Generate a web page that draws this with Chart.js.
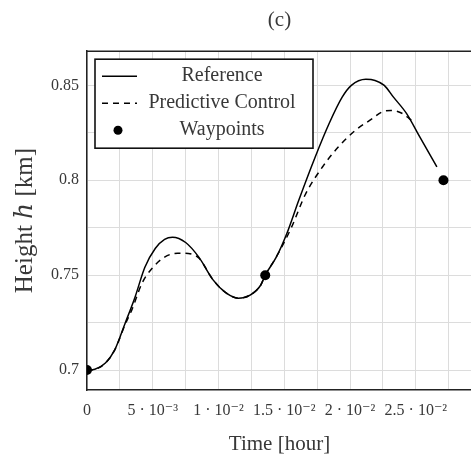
<!DOCTYPE html>
<html>
<head>
<meta charset="utf-8">
<script src="https://cdn.jsdelivr.net/npm/chart.js@4.4.1/dist/chart.umd.min.js"></script>
<style>
  html, body { margin: 0; padding: 0; background: #fff; overflow: hidden; }
  #wrap { width: 471px; height: 459px; overflow: hidden; }
</style>
</head>
<body>
<!-- canvas is a few px wider than the window: the plot runs off the right edge like the original -->
<div id="wrap"><canvas id="chart" width="477" height="459"></canvas></div>
<script>
// time [hour] / height [km]
const refTime = [0, 0.0006, 0.0014, 0.0021, 0.0029, 0.00365, 0.0044, 0.0052, 0.0059, 0.0065, 0.0075, 0.0085, 0.0096, 0.0106, 0.0115, 0.0124, 0.0132, 0.01355, 0.0144, 0.0152, 0.0161, 0.01735, 0.0184, 0.0194, 0.0201, 0.0212, 0.0219, 0.0226, 0.0233, 0.0243, 0.0253, 0.0266];
const refHeight = [0.7, 0.7004, 0.7037, 0.7105, 0.7247, 0.7384, 0.7542, 0.7642, 0.7689, 0.7700, 0.7672, 0.7595, 0.7474, 0.7405, 0.7379, 0.7395, 0.7447, 0.75, 0.7596, 0.7721, 0.7895, 0.8123, 0.8298, 0.8438, 0.8500, 0.8532, 0.8526, 0.8500, 0.8438, 0.8351, 0.8228, 0.8070];

const mpcTime = [0, 0.0006, 0.0014, 0.0021, 0.0029, 0.0034, 0.0042, 0.0050, 0.0059, 0.0069, 0.0077, 0.0085, 0.0096, 0.0106, 0.0115, 0.0124, 0.0132, 0.01355, 0.0143, 0.0155, 0.0166, 0.0179, 0.0191, 0.0204, 0.0217, 0.0224, 0.0231, 0.0240, 0.0245, 0.0249];
const mpcHeight = [0.7, 0.7004, 0.7037, 0.7105, 0.7240, 0.7316, 0.7460, 0.7540, 0.7595, 0.7616, 0.7614, 0.7590, 0.7474, 0.7405, 0.7379, 0.7395, 0.7447, 0.75, 0.7585, 0.7745, 0.7925, 0.8070, 0.8175, 0.8263, 0.8325, 0.8359, 0.8368, 0.8351, 0.8325, 0.8305];

const wpTime = [0, 0.01355, 0.0271];
const wpHeight = [0.7, 0.75, 0.8];

const xTickLabels = ['0', '5 · 10⁻³', '1 · 10⁻²', '1.5 · 10⁻²', '2 · 10⁻²', '2.5 · 10⁻²'];
const yTickLabels = ['0.7', '0.75', '0.8', '0.85'];

const serif = "'Liberation Serif', 'DejaVu Serif', serif";
const ink = '#383838';

function pts(xs, ys) {
  return xs.map((x, i) => ({ x: x, y: ys[i] }));
}

// top edge of the frame (chart.js only draws the axis sides)
const frameTop = {
  id: 'frameTop',
  beforeDatasetsDraw(chart) {
    const a = chart.chartArea, ctx = chart.ctx;
    ctx.save();
    ctx.strokeStyle = '#222';
    ctx.lineWidth = 1.5;
    ctx.beginPath();
    ctx.moveTo(a.left, a.top);
    ctx.lineTo(a.right, a.top);
    ctx.stroke();
    ctx.restore();
  }
};

// boxed legend, text centred like the pgfplots one
const boxLegend = {
  id: 'boxLegend',
  afterDraw(chart) {
    const a = chart.chartArea, ctx = chart.ctx;
    const x0 = a.left + 8, y0 = a.top + 8, w = 218, h = 89;
    ctx.save();
    ctx.fillStyle = '#fff';
    ctx.fillRect(x0, y0, w, h);
    ctx.strokeStyle = '#111';
    ctx.lineWidth = 1.6;
    ctx.strokeRect(x0, y0, w, h);
    chart.data.datasets.forEach((ds, i) => {
      const cy = y0 + 17 + i * 27;
      if (ds.showLine) {
        ctx.beginPath();
        ctx.setLineDash(ds.borderDash || []);
        ctx.lineWidth = ds.borderWidth;
        ctx.strokeStyle = ds.borderColor;
        ctx.moveTo(x0 + 7, cy);
        ctx.lineTo(x0 + 42, cy);
        ctx.stroke();
        ctx.setLineDash([]);
      } else {
        ctx.beginPath();
        ctx.arc(x0 + 23, cy, 4.5, 0, 2 * Math.PI);
        ctx.fillStyle = ds.pointBackgroundColor;
        ctx.fill();
      }
      ctx.fillStyle = ink;
      ctx.font = '20px ' + serif;
      ctx.textAlign = 'center';
      ctx.textBaseline = 'middle';
      ctx.fillText(ds.label, x0 + 127, cy);
    });
    ctx.restore();
  }
};

new Chart(document.getElementById('chart'), {
  type: 'scatter',
  data: {
    datasets: [
      {
        label: 'Reference',
        data: pts(refTime, refHeight),
        showLine: true,
        borderColor: '#000',
        borderWidth: 1.5,
        pointRadius: 0,
        cubicInterpolationMode: 'monotone'
      },
      {
        label: 'Predictive Control',
        data: pts(mpcTime, mpcHeight),
        showLine: true,
        borderColor: '#000',
        borderWidth: 1.5,
        borderDash: [6, 5],
        pointRadius: 0,
        cubicInterpolationMode: 'monotone'
      },
      {
        label: 'Waypoints',
        data: pts(wpTime, wpHeight),
        showLine: false,
        pointRadius: 5,
        pointBackgroundColor: '#000',
        pointBorderWidth: 0
      }
    ]
  },
  options: {
    responsive: false,
    animation: false,
    layout: { padding: 0 },
    plugins: {
      legend: { display: false },
      tooltip: { enabled: false },
      title: {
        display: true,
        text: '(c)',
        fullSize: false,
        color: ink,
        font: { family: serif, size: 21, weight: 'normal' },
        padding: { top: 8, bottom: 18 }
      }
    },
    scales: {
      x: {
        type: 'linear',
        min: 0,
        max: 0.02927,
        afterFit: s => { s.height = 69; s.paddingLeft = 0; s.paddingRight = 0; },
        border: { color: '#222', width: 1.5 },
        grid: { color: '#dcdcdc', lineWidth: 1, drawTicks: false },
        ticks: {
          stepSize: 0.0025,
          includeBounds: false,
          autoSkip: false,
          maxRotation: 0,
          padding: 11,
          color: ink,
          font: { family: serif, size: 16 },
          callback: v => {
            const i = Math.round(v / 0.0025);
            return i % 2 === 0 ? (xTickLabels[i / 2] || '') : '';
          }
        },
        title: {
          display: true,
          text: 'Time [hour]',
          color: ink,
          font: { family: serif, size: 21 },
          padding: { top: 0, bottom: 2 }
        }
      },
      y: {
        type: 'linear',
        min: 0.6895,
        max: 0.868,
        afterFit: s => { s.width = 87; s.paddingTop = 0; s.paddingBottom = 0; },
        border: { color: '#222', width: 1.5 },
        grid: { color: '#dcdcdc', lineWidth: 1, drawTicks: false },
        ticks: {
          stepSize: 0.025,
          includeBounds: false,
          autoSkip: false,
          padding: 8,
          color: ink,
          font: { family: serif, size: 16 },
          callback: v => {
            const i = Math.round((v - 0.7) / 0.025);
            return i % 2 === 0 ? (yTickLabels[i / 2] || '') : '';
          }
        },
        title: {
          display: true,
          text: 'Height ℎ [km]',
          color: ink,
          font: { family: serif, size: 25 },
          padding: { top: 10, bottom: 0 }
        }
      }
    }
  },
  plugins: [frameTop, boxLegend]
});
</script>
</body>
</html>
